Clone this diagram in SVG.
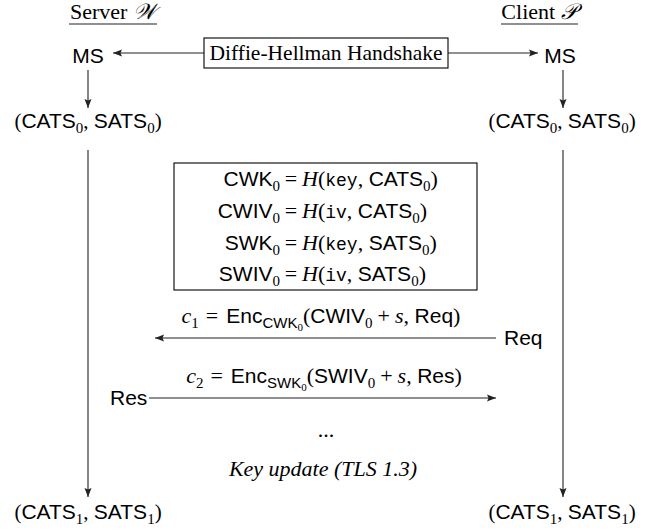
<svg xmlns="http://www.w3.org/2000/svg" width="657" height="531" viewBox="0 0 657 531">
<style>
text { fill: #000; }
.sf { font-family: "Liberation Sans", Arial, sans-serif; font-size: 21px; }
.rm { font-family: "Liberation Serif", "Times New Roman", serif; font-size: 22px; }
.it { font-family: "Liberation Serif", "Times New Roman", serif; font-style: italic; }
.tt { font-family: "Liberation Mono", "Courier New", monospace; font-size: 18px; }
.srm { font-family: "Liberation Serif", "Times New Roman", serif; }
.sub { font-size: 15px; }
.ssub { font-size: 11px; }
.ln { stroke: #222; stroke-width: 1.1; fill: none; }
.box { stroke: #000; stroke-width: 1.1; fill: #fff; }
</style>
<defs>
<marker id="ah" markerUnits="userSpaceOnUse" markerWidth="10" markerHeight="8" refX="9" refY="4" orient="auto">
<path d="M0,0.5 L9,4 L0,7.5 L1.5,4 z" fill="#222"/>
</marker>
</defs>

<g id="connectors">
<line class="ln" x1="204" y1="53" x2="113" y2="53" marker-end="url(#ah)"/>
<line class="ln" x1="448" y1="53" x2="538" y2="53" marker-end="url(#ah)"/>
<line class="ln" x1="88" y1="70" x2="88" y2="108" marker-end="url(#ah)"/>
<line class="ln" x1="563" y1="70" x2="563" y2="108" marker-end="url(#ah)"/>
<line class="ln" x1="88" y1="150" x2="88" y2="497" marker-end="url(#ah)"/>
<line class="ln" x1="563" y1="150" x2="563" y2="497" marker-end="url(#ah)"/>
<line class="ln" x1="496" y1="338" x2="155" y2="338" marker-end="url(#ah)"/>
<line class="ln" x1="149" y1="398" x2="496" y2="398" marker-end="url(#ah)"/>
</g>

<g id="server-label">
<text class="rm" x="113" y="19" text-anchor="middle">Server <tspan class="it">𝒲</tspan></text>
<line x1="69" y1="24" x2="157" y2="24" stroke="#222" stroke-width="1.1"/>
</g>
<g id="client-label">
<text class="rm" x="539" y="19" text-anchor="middle">Client <tspan class="it">𝒫</tspan></text>
<line x1="501" y1="24" x2="578" y2="24" stroke="#222" stroke-width="1.1"/>
</g>

<g id="handshake">
<rect class="box" x="204" y="38" width="244" height="30"/>
<text class="rm" x="326" y="60" text-anchor="middle" style="font-size:21.5px">Diffie-Hellman Handshake</text>
</g>

<g id="ms-server">
<text class="sf" x="88" y="63" text-anchor="middle">MS</text>
</g>
<g id="ms-client">
<text class="sf" x="560" y="63" text-anchor="middle">MS</text>
</g>

<g id="ats0-server">
<text class="sf" x="88" y="128" text-anchor="middle"><tspan class="srm">(</tspan>CATS<tspan class="srm sub" dy="5">0</tspan><tspan class="srm" dy="-5">, </tspan>SATS<tspan class="srm sub" dy="5">0</tspan><tspan class="srm" dy="-5">)</tspan></text>
</g>
<g id="ats0-client">
<text class="sf" x="562" y="128" text-anchor="middle"><tspan class="srm">(</tspan>CATS<tspan class="srm sub" dy="5">0</tspan><tspan class="srm" dy="-5">, </tspan>SATS<tspan class="srm sub" dy="5">0</tspan><tspan class="srm" dy="-5">)</tspan></text>
</g>

<g id="key-derivation">
<rect class="box" x="174" y="163" width="303" height="127"/>
<text class="sf" x="280" y="186" text-anchor="end">CWK<tspan class="srm sub" dy="5">0</tspan></text>
<text class="rm" x="291" y="186" text-anchor="middle">=</text>
<text class="rm" x="302" y="186"><tspan class="it">H</tspan>(<tspan class="tt">key</tspan>, <tspan class="sf">CATS</tspan><tspan class="sub" dy="5">0</tspan><tspan dy="-5">)</tspan></text>

<text class="sf" x="280" y="218" text-anchor="end">CWIV<tspan class="srm sub" dy="5">0</tspan></text>
<text class="rm" x="291" y="218" text-anchor="middle">=</text>
<text class="rm" x="302" y="218"><tspan class="it">H</tspan>(<tspan class="tt">iv</tspan>, <tspan class="sf">CATS</tspan><tspan class="sub" dy="5">0</tspan><tspan dy="-5">)</tspan></text>

<text class="sf" x="280" y="250" text-anchor="end">SWK<tspan class="srm sub" dy="5">0</tspan></text>
<text class="rm" x="291" y="250" text-anchor="middle">=</text>
<text class="rm" x="302" y="250"><tspan class="it">H</tspan>(<tspan class="tt">key</tspan>, <tspan class="sf">SATS</tspan><tspan class="sub" dy="5">0</tspan><tspan dy="-5">)</tspan></text>

<text class="sf" x="280" y="281" text-anchor="end">SWIV<tspan class="srm sub" dy="5">0</tspan></text>
<text class="rm" x="291" y="281" text-anchor="middle">=</text>
<text class="rm" x="302" y="281"><tspan class="it">H</tspan>(<tspan class="tt">iv</tspan>, <tspan class="sf">SATS</tspan><tspan class="sub" dy="5">0</tspan><tspan dy="-5">)</tspan></text>
</g>

<g id="c1-label">
<text class="rm" x="321" y="323" text-anchor="middle"><tspan class="it">c</tspan><tspan class="sub" dy="5">1</tspan><tspan dy="-5" dx="7">=</tspan><tspan class="sf" dx="8">Enc</tspan><tspan class="sf sub" dy="5">CWK</tspan><tspan class="ssub" dy="3">0</tspan><tspan dy="-8">(</tspan><tspan class="sf">CWIV</tspan><tspan class="sub" dy="5">0</tspan><tspan dy="-5" dx="5">+</tspan><tspan class="it" dx="5">s</tspan>, <tspan class="sf">Req</tspan>)</text>
</g>
<g id="req">
<text class="sf" x="504" y="345">Req</text>
</g>

<g id="c2-label">
<text class="rm" x="324" y="383" text-anchor="middle"><tspan class="it">c</tspan><tspan class="sub" dy="5">2</tspan><tspan dy="-5" dx="7">=</tspan><tspan class="sf" dx="8">Enc</tspan><tspan class="sf sub" dy="5">SWK</tspan><tspan class="ssub" dy="3">0</tspan><tspan dy="-8">(</tspan><tspan class="sf">SWIV</tspan><tspan class="sub" dy="5">0</tspan><tspan dy="-5" dx="5">+</tspan><tspan class="it" dx="5">s</tspan>, <tspan class="sf">Res</tspan>)</text>
</g>
<g id="res">
<text class="sf" x="110" y="405">Res</text>
</g>

<g id="dots">
<text class="rm" x="326" y="437" text-anchor="middle">...</text>
</g>
<g id="key-update">
<text class="rm it" x="323" y="476" text-anchor="middle">Key update (TLS 1.3)</text>
</g>

<g id="ats1-server">
<text class="sf" x="88" y="519" text-anchor="middle"><tspan class="srm">(</tspan>CATS<tspan class="srm sub" dy="5">1</tspan><tspan class="srm" dy="-5">, </tspan>SATS<tspan class="srm sub" dy="5">1</tspan><tspan class="srm" dy="-5">)</tspan></text>
</g>
<g id="ats1-client">
<text class="sf" x="562" y="519" text-anchor="middle"><tspan class="srm">(</tspan>CATS<tspan class="srm sub" dy="5">1</tspan><tspan class="srm" dy="-5">, </tspan>SATS<tspan class="srm sub" dy="5">1</tspan><tspan class="srm" dy="-5">)</tspan></text>
</g>
</svg>
